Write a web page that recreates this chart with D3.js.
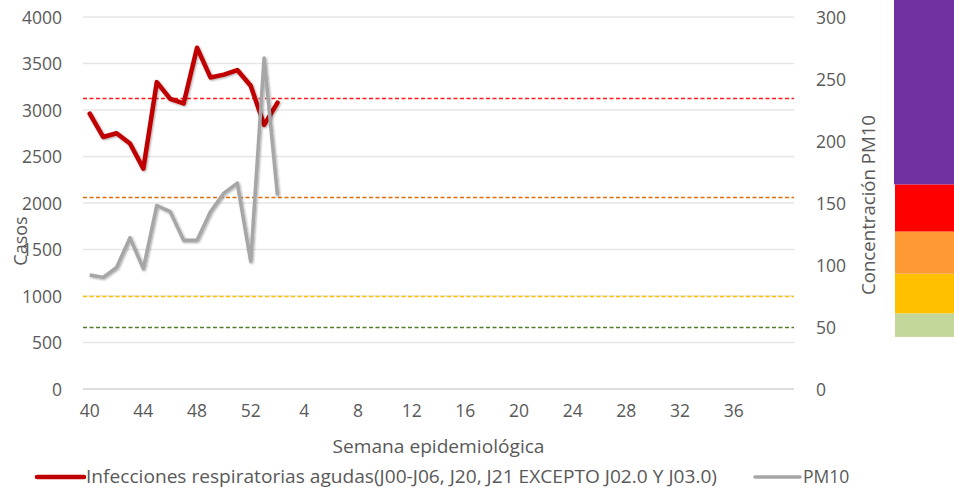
<!DOCTYPE html>
<html>
<head>
<meta charset="utf-8">
<title></title>
<style>
  body { margin: 0; background: #fff; }
  svg text { font-family: "Open Sans", "Noto Sans", sans-serif; fill: #595959; }
  .grid line { stroke: #e6e6e6; stroke-width: 1.3; }
  .tick-lbl { font-size: 17.5px; }
</style>
</head>
<body>
<svg class="chart"></svg>
<script src="https://cdn.jsdelivr.net/npm/d3@7"></script>
<script>
var w = 954, h = 489;

// semanas epidemiologicas (40..52, then 1..40)
var weeks = [40, 41, 42, 43, 44, 45, 46, 47, 48, 49, 50, 51, 52,
             1, 2, 3, 4, 5, 6, 7, 8, 9, 10, 11, 12, 13, 14, 15, 16, 17, 18, 19, 20,
             21, 22, 23, 24, 25, 26, 27, 28, 29, 30, 31, 32, 33, 34, 35, 36, 37, 38, 39, 40];
var casos = [2960, 2710, 2750, 2640, 2370, 3300, 3120, 3070, 3670, 3350, 3380, 3430, 3260, 2840, 3080];
var pm10 = [92, 90, 98, 122, 97, 148, 143, 120, 120, 143, 158, 166, 103, 267, 156];

var leftTicks = [0, 500, 1000, 1500, 2000, 2500, 3000, 3500, 4000];
var rightTicks = [0, 50, 100, 150, 200, 250, 300];

// umbrales PM10 (eje secundario)
var limites = [235, 155, 75, 50];
var limColors = ['#ff1a1a', '#e36c09', '#ffc000', '#4f7f2a'];

// franjas de color a la derecha (valores del eje secundario)
var bandEdges = [42, 61, 93, 127, 165, 314];
var bandColors = ['#c4d79b', '#ffc000', '#ff9933', '#ff0000', '#7030a0'];

var pLeft = 83, pRight = 794, pTop = 17, pBottom = 389;

var svg = d3.select('.chart').attr('width', w).attr('height', h);

var x = d3.scaleBand().domain(d3.range(weeks.length)).range([pLeft, pRight]);
var xc = i => x(i) + x.bandwidth() / 2;
var yL = d3.scaleLinear().domain([0, 4000]).range([pBottom, pTop]);
var yR = d3.scaleLinear().domain([0, 300]).range([pBottom, pTop]);

// gridlines
svg.append('g').attr('class', 'grid')
    .selectAll('line')
    .data(leftTicks.filter(d => d > 0))
    .enter().append('line')
    .attr('x1', pLeft).attr('x2', pRight)
    .attr('y1', d => yL(d)).attr('y2', d => yL(d));

svg.append('line')
    .attr('x1', pLeft).attr('x2', pRight)
    .attr('y1', yL(0)).attr('y2', yL(0))
    .attr('stroke', '#d0d0d0').attr('stroke-width', 1.6);

// left axis
var ax = svg.append('g').attr('transform', 'translate(62,0)')
    .call(d3.axisLeft(yL).tickValues(leftTicks).tickFormat(d3.format('d')).tickSize(0).tickPadding(0));
ax.select('.domain').remove();
ax.selectAll('text').attr('class', 'tick-lbl').attr('fill', null).attr('dy', '0.35em');

// right axis
var axr = svg.append('g').attr('transform', 'translate(816,0)')
    .call(d3.axisRight(yR).tickValues(rightTicks).tickSize(0).tickPadding(0));
axr.select('.domain').remove();
axr.selectAll('text').attr('class', 'tick-lbl').attr('fill', null).attr('dy', '0.35em');

// bottom axis
var axb = svg.append('g').attr('transform', 'translate(0,' + pBottom + ')')
    .call(d3.axisBottom(x)
        .tickValues(d3.range(0, 49, 4))
        .tickFormat(i => weeks[i])
        .tickSize(0).tickPadding(16));
axb.select('.domain').remove();
axb.selectAll('text').attr('class', 'tick-lbl').attr('fill', null);

// threshold dashed lines
svg.selectAll('.lim')
    .data(limites)
    .enter().append('line')
    .attr('class', 'lim')
    .attr('x1', pLeft).attr('x2', pRight)
    .attr('y1', d => Math.round(yR(d)) + 0.5).attr('y2', d => Math.round(yR(d)) + 0.5)
    .attr('stroke', (d, i) => limColors[i])
    .attr('stroke-width', 1.4)
    .attr('stroke-dasharray', '4,2.5');

// colour bands on the right
svg.selectAll('.band')
    .data(bandColors)
    .enter().append('rect')
    .attr('class', 'band')
    .attr('x', (d, i) => i == 4 ? 894 : 895)
    .attr('width', 60)
    .attr('y', (d, i) => yR(bandEdges[i + 1]))
    .attr('height', (d, i) => yR(bandEdges[i]) - yR(bandEdges[i + 1]))
    .attr('fill', d => d);

var defs = svg.append('defs');
var f = defs.append('filter').attr('id', 'soft')
    .attr('x', '-10%').attr('y', '-10%').attr('width', '120%').attr('height', '120%');
f.append('feGaussianBlur').attr('in', 'SourceAlpha').attr('stdDeviation', 1.2).attr('result', 'b');
f.append('feOffset').attr('in', 'b').attr('dx', 0.5).attr('dy', 0.8).attr('result', 'o');
f.append('feComponentTransfer').attr('in', 'o').attr('result', 'o2')
    .append('feFuncA').attr('type', 'linear').attr('slope', 0.35);
var m = f.append('feMerge');
m.append('feMergeNode').attr('in', 'o2');
m.append('feMergeNode').attr('in', 'SourceGraphic');

var lineL = d3.line().x((d, i) => xc(i)).y(d => yL(d));
var lineR = d3.line().x((d, i) => xc(i)).y(d => yR(d));

svg.append('path')
    .datum(casos)
    .attr('d', lineL)
    .attr('fill', 'none')
    .attr('stroke', '#c00000')
    .attr('stroke-width', 4.5)
    .attr('stroke-linejoin', 'round')
    .attr('stroke-linecap', 'round')
    .attr('filter', 'url(#soft)');

svg.append('path')
    .datum(pm10)
    .attr('d', lineR)
    .attr('fill', 'none')
    .attr('stroke', '#a6a6a6')
    .attr('stroke-width', 3.5)
    .attr('stroke-linejoin', 'round')
    .attr('filter', 'url(#soft)');

// axis titles
svg.append('text')
    .attr('transform', 'translate(27,241) rotate(-90)')
    .attr('text-anchor', 'middle')
    .style('font-size', '18px')
    .text('Casos');

svg.append('text')
    .attr('transform', 'translate(875,205) rotate(-90)')
    .attr('text-anchor', 'middle')
    .style('font-size', '18px')
    .attr('textLength', 180).attr('lengthAdjust', 'spacingAndGlyphs')
    .text('Concentración PM10');

svg.append('text')
    .attr('x', (pLeft + pRight) / 2).attr('y', 453)
    .attr('text-anchor', 'middle')
    .style('font-size', '17.5px')
    .attr('textLength', 212).attr('lengthAdjust', 'spacingAndGlyphs')
    .text('Semana epidemiológica');

// legend
var legend = svg.append('g');
legend.append('line')
    .attr('x1', 37).attr('x2', 84).attr('y1', 477).attr('y2', 477)
    .attr('stroke', '#c00000').attr('stroke-width', 4.5).attr('stroke-linecap', 'round');
legend.append('text')
    .attr('x', 86).attr('y', 483)
    .style('font-size', '17.5px')
    .attr('textLength', 631).attr('lengthAdjust', 'spacingAndGlyphs')
    .text('Infecciones respiratorias agudas(J00-J06, J20, J21 EXCEPTO J02.0 Y J03.0)');
legend.append('line')
    .attr('x1', 755).attr('x2', 800).attr('y1', 477).attr('y2', 477)
    .attr('stroke', '#a6a6a6').attr('stroke-width', 3.5).attr('stroke-linecap', 'round');
legend.append('text')
    .attr('x', 803).attr('y', 483)
    .style('font-size', '17.5px')
    .text('PM10');
</script>
</body>
</html>
